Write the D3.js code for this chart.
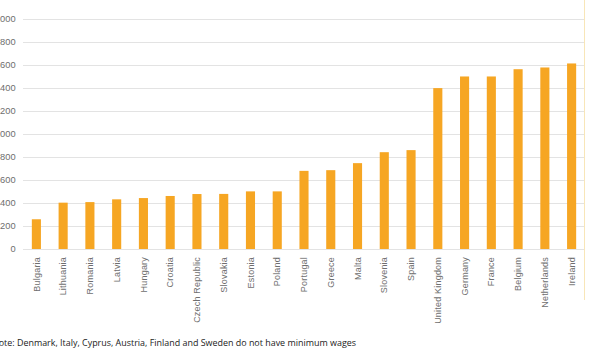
<!DOCTYPE html>
<html><head><meta charset="utf-8">
<script src="https://cdn.jsdelivr.net/npm/d3@7"></script>
<style>body{margin:0;background:#fff;}svg{display:block;}</style>
</head><body>
<svg id="c" width="590" height="354"></svg>
<script>
const countries = ["Bulgaria","Lithuania","Romania","Latvia","Hungary","Croatia","Czech Republic","Slovakia","Estonia","Poland","Portugal","Greece","Malta","Slovenia","Spain","United Kingdom","Germany","France","Belgium","Netherlands","Ireland"];
const wages = [258,402,407,431,442,460,477,478,500,500,678,684,745,840,858,1396,1497,1497,1560,1575,1610];
const yTicks = [0,200,400,600,800,1000,1200,1400,1600,1800,2000];
const note = "Note:  Denmark,  Italy, Cyprus, Austria, Finland and Sweden do not have minimum wages";

const svg = d3.select("#c");
const x = d3.scaleBand().domain(countries).range([23,585]).paddingInner(0.66).paddingOuter(0.33);
const y = d3.scaleLinear().domain([0,2000]).range([249,18.5]);

// chart border on right
svg.append("line").attr("x1",584.5).attr("x2",584.5).attr("y1",0).attr("y2",300)
  .attr("stroke","#f8e6b8").attr("stroke-width",1);

// gridlines
svg.append("g").selectAll("line").data(yTicks).join("line")
  .attr("x1",23).attr("x2",584).attr("y1",d=>Math.round(y(d))+0.5).attr("y2",d=>Math.round(y(d))+0.5)
  .attr("stroke","#e3e3e3").attr("stroke-width",1);

// y axis labels
const yAxis = d3.axisLeft(y).tickValues(yTicks).tickSize(0).tickPadding(0).tickFormat(d3.format("d"));
const yg = svg.append("g").attr("transform","translate(15.6,0)").call(yAxis);
yg.select(".domain").remove();
yg.selectAll("text").attr("fill","#6e6e6e").attr("font-family","Liberation Sans, Arial, sans-serif").attr("font-size",9.3);

// bars
svg.append("g").selectAll("rect").data(countries).join("rect")
  .attr("x",d=>x(d)).attr("width",x.bandwidth())
  .attr("y",(d,i)=>y(wages[i])).attr("height",(d,i)=>y(0)-y(wages[i]))
  .attr("fill","#F6A623");

// x axis labels
const xAxis = d3.axisBottom(x).tickSize(0).tickPadding(0);
const xg = svg.append("g").attr("transform","translate(0,257)").call(xAxis);
xg.select(".domain").remove();
xg.selectAll("text")
  .attr("transform","rotate(-90)").attr("text-anchor","end").attr("dy","0.35em").attr("dx",0).attr("y",0).attr("x",0)
  .attr("fill","#6e6e6e").attr("font-family","Liberation Sans, Arial, sans-serif").attr("font-size",9)
  .attr("letter-spacing",0.2);

// note
svg.append("text").attr("x",-8).attr("y",346).text(note)
  .attr("font-family","Open Sans, Liberation Sans, sans-serif").attr("font-size",9).attr("fill","#222")
  .attr("textLength",364).attr("lengthAdjust","spacingAndGlyphs");
</script>
</body></html>
